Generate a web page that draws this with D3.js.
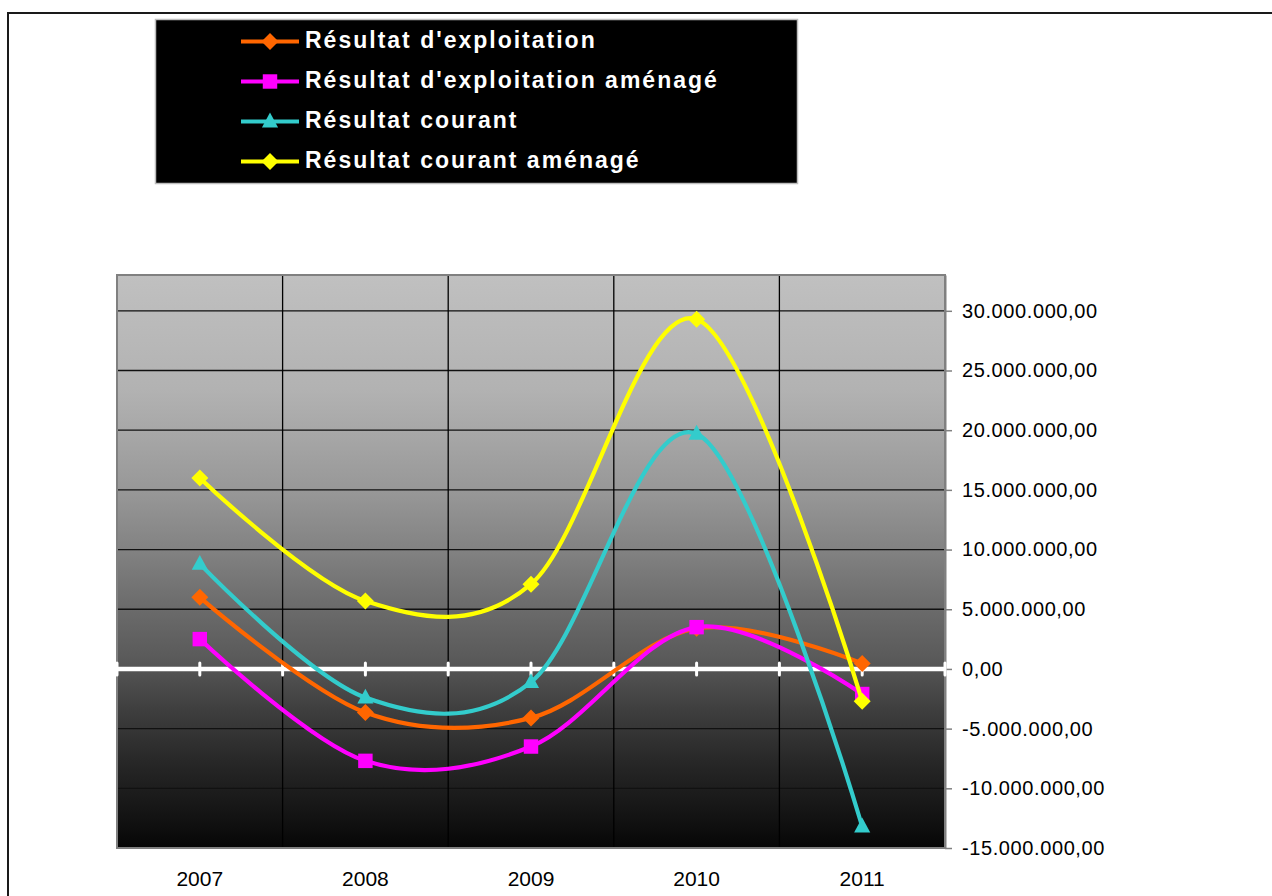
<!DOCTYPE html>
<html>
<head>
<meta charset="utf-8">
<script src="https://cdn.jsdelivr.net/npm/d3@7"></script>
<style>
  html, body { margin: 0; padding: 0; background: #ffffff; }
  svg { display: block; }
  text { font-family: "Liberation Sans", Arial, sans-serif; }
</style>
</head>
<body>
<svg id="chart" width="1272" height="896"></svg>
<script>
// ---- data ----
const categories = ["2007", "2008", "2009", "2010", "2011"];
const seriesNames = [
  "Résultat d'exploitation",
  "Résultat d'exploitation aménagé",
  "Résultat courant",
  "Résultat courant aménagé"
];
const exploitation        = [6000000, -3650000, -4100000, 3400000, 450000];
const exploitationAmenage = [2500000, -7700000, -6500000, 3500000, -2100000];
const courant             = [8800000, -2400000, -1100000, 19700000, -13200000];
const courantAmenage      = [16000000, 5700000, 7100000, 29300000, -2700000];
const yTicks = [-15000000, -10000000, -5000000, 0, 5000000, 10000000, 15000000, 20000000, 25000000, 30000000];
const seriesColors = ["#FF6600", "#FF00FF", "#33CCCC", "#FFFF00"];
const seriesMarkers = ["diamond", "square", "triangle", "diamond"];

const seriesValues = [exploitation, exploitationAmenage, courant, courantAmenage];
const series = seriesNames.map((name, i) => ({
  name, color: seriesColors[i], marker: seriesMarkers[i],
  values: categories.map((c, j) => ({ cat: c, v: seriesValues[i][j] }))
}));

// ---- layout ----
const svg = d3.select("#chart");
const plot = { left: 117, right: 945, top: 275, bottom: 848 };

const x = d3.scalePoint().domain(categories).range([plot.left, plot.right]).padding(0.5);
const y = d3.scaleLinear().domain([-15000000, 33000000]).range([plot.bottom, plot.top]);
const step = x.step();

// outer frame
svg.append("path")
  .attr("d", `M8,896 L8,13 L1272,13`)
  .attr("fill", "none").attr("stroke", "#1a1a1a").attr("stroke-width", 2);

// gradient
const defs = svg.append("defs");
const grad = defs.append("linearGradient").attr("id", "bg")
  .attr("x1", 0).attr("y1", 0).attr("x2", 0).attr("y2", 1);
[[0, 192], [0.2, 178], [0.29, 165], [0.385, 150], [0.48, 130], [0.567, 110],
 [0.668, 90], [0.76, 62], [0.855, 38], [0.95, 18], [1, 6]].forEach(([o, g]) => {
  grad.append("stop").attr("offset", o).attr("stop-color", d3.rgb(g, g, g));
});

svg.append("rect")
  .attr("x", plot.left).attr("y", plot.top)
  .attr("width", plot.right - plot.left).attr("height", plot.bottom - plot.top)
  .attr("fill", "url(#bg)");

// horizontal gridlines
svg.append("g").selectAll("line")
  .data(yTicks.filter(t => t !== 0 && t !== -15000000))
  .join("line")
  .attr("x1", plot.left).attr("x2", plot.right)
  .attr("y1", d => y(d)).attr("y2", d => y(d))
  .attr("stroke", "#111").attr("stroke-width", 1.3);

// vertical gridlines at category boundaries
svg.append("g").selectAll("line")
  .data(categories.slice(1))
  .join("line")
  .attr("x1", d => x(d) - step / 2).attr("x2", d => x(d) - step / 2)
  .attr("y1", plot.top).attr("y2", plot.bottom)
  .attr("stroke", "#000").attr("stroke-width", 1.3);

// plot border
svg.append("rect")
  .attr("x", plot.left).attr("y", plot.top)
  .attr("width", plot.right - plot.left).attr("height", plot.bottom - plot.top)
  .attr("fill", "none").attr("stroke", "#808080").attr("stroke-width", 2);

// right value axis
const yAxis = d3.axisRight(y).tickValues(yTicks).tickSize(7).tickSizeOuter(0).tickPadding(10)
  .tickFormat(d => {
    const s = d3.format(",.2f")(Math.abs(d)).replace(/,/g, "#").replace(".", ",").replace(/#/g, ".");
    return (d < 0 ? "-" : "") + s;
  });
const ya = svg.append("g").attr("transform", `translate(${plot.right},0)`).call(yAxis);
ya.select(".domain").attr("stroke", "#808080").attr("stroke-width", 2);
ya.selectAll(".tick line").attr("stroke", "#808080").attr("stroke-width", 1.5);
ya.selectAll(".tick text").attr("font-size", 20).attr("fill", "#000")
  .attr("letter-spacing", "0.6px").attr("font-family", "'Liberation Sans', Arial, sans-serif");

// category labels
svg.append("g").selectAll("text")
  .data(categories).join("text")
  .attr("x", d => x(d)).attr("y", 886)
  .attr("text-anchor", "middle").attr("font-size", 21).attr("fill", "#000")
  .text(d => d);

// zero line (white) with ticks
svg.append("line")
  .attr("x1", plot.left).attr("x2", plot.right)
  .attr("y1", y(0)).attr("y2", y(0))
  .attr("stroke", "#fff").attr("stroke-width", 4.5);
const zeroTicks = [];
categories.forEach(c => { zeroTicks.push(x(c) - step / 2); zeroTicks.push(x(c)); });
zeroTicks.push(x(categories[categories.length - 1]) + step / 2);
svg.append("g").selectAll("line").data(zeroTicks).join("line")
  .attr("x1", d => d).attr("x2", d => d)
  .attr("y1", y(0) - 6).attr("y2", y(0) + 6)
  .attr("stroke", "#fff").attr("stroke-width", 3).attr("stroke-linecap", "round");

// markers
function markerPath(type, s) {
  if (type === "diamond") return `M0,${-s} L${s},0 L0,${s} L${-s},0 Z`;
  if (type === "square") return `M${-s * 0.85},${-s * 0.85} H${s * 0.85} V${s * 0.85} H${-s * 0.85} Z`;
  if (type === "triangle") return `M0,${-s * 1.05} L${s * 0.95},${s * 0.7} L${-s * 0.95},${s * 0.7} Z`;
}

const line = d3.line().x(d => x(d.cat)).y(d => y(d.v)).curve(d3.curveCardinal.tension(0));

series.forEach(s => {
  const g = svg.append("g");
  g.append("path").attr("d", line(s.values))
    .attr("fill", "none").attr("stroke", s.color).attr("stroke-width", 4.2)
    .attr("stroke-linejoin", "round");
  g.selectAll("path.m").data(s.values).join("path").attr("class", "m")
    .attr("transform", d => `translate(${x(d.cat)},${y(d.v)})`)
    .attr("d", markerPath(s.marker, 8.5))
    .attr("fill", s.color);
});

// legend
const lg = svg.append("g");
lg.append("rect").attr("x", 155.5).attr("y", 19.5).attr("width", 642).attr("height", 164)
  .attr("fill", "#000").attr("stroke", "#bdbdbd").attr("stroke-width", 1.5);
series.forEach((s, i) => {
  const cy = 41.5 + i * 40;
  lg.append("line").attr("x1", 241).attr("x2", 299).attr("y1", cy).attr("y2", cy)
    .attr("stroke", s.color).attr("stroke-width", 4);
  lg.append("path").attr("transform", `translate(270,${cy})`)
    .attr("d", markerPath(s.marker, 8.5)).attr("fill", s.color);
  lg.append("text").attr("x", 305).attr("y", cy + 6)
    .attr("font-size", 23).attr("font-weight", "bold").attr("fill", "#fff")
    .attr("letter-spacing", "2px")
    .text(s.name);
});
</script>
</body>
</html>
